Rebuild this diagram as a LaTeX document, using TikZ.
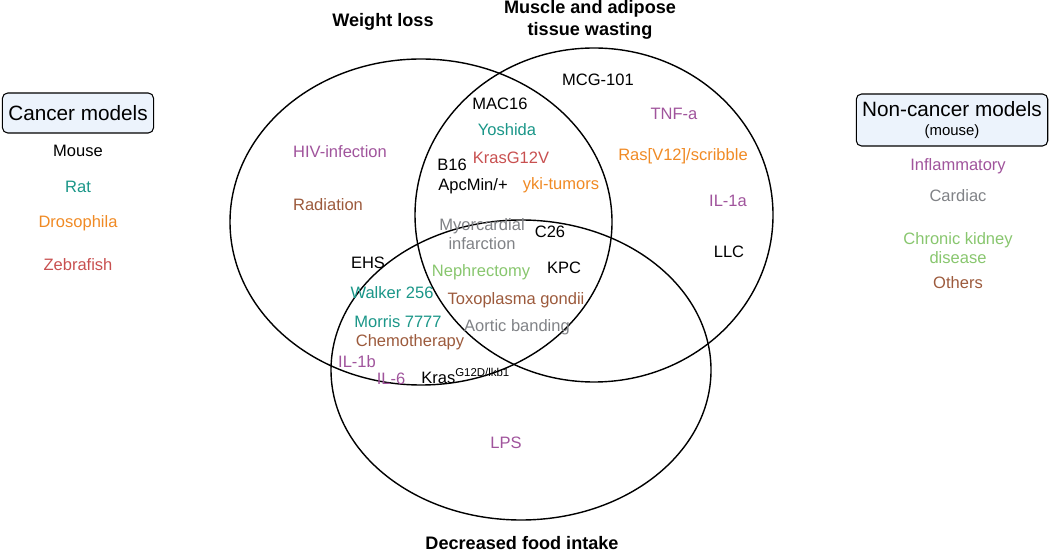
\documentclass[tikz,border=0pt]{standalone}
\usepackage{fontspec}
\setmainfont{Liberation Sans}
\usetikzlibrary{shapes,positioning}
\definecolor{tealcolor}{RGB}{26,150,136}
\definecolor{orangecolor}{RGB}{240,138,36}
\definecolor{redcolor}{RGB}{200,80,80}
\definecolor{purplecolor}{RGB}{160,84,156}
\definecolor{browncolor}{RGB}{156,90,60}
\definecolor{graycolor}{RGB}{128,130,134}
\definecolor{greencolor}{RGB}{136,198,110}
\definecolor{boxcolor}{RGB}{236,243,252}

\begin{document}
\begin{tikzpicture}[x=0.02cm, y=-0.02cm,
    lbl/.style={font=\fontsize{9.4}{10}\selectfont, inner sep=0pt},
    head/.style={font=\fontsize{10.3}{12.4}\selectfont\bfseries, align=center, inner sep=0pt},
    modelbox/.style={draw, rounded corners=3pt, fill=boxcolor, line width=0.6pt, align=center}]
  \useasboundingbox (0,0) rectangle (1050,553);

  % the three sets
  \draw[line width=0.8pt] (421,222) ellipse [x radius=191, y radius=163];
  \draw[line width=0.8pt] (594,215) ellipse [x radius=179, y radius=167];
  \draw[line width=0.8pt] (521,370) ellipse [x radius=190, y radius=150];

  \node[head] (weight) at (383,22) {Weight loss};
  \node[head] (wasting) at (590,20) {Muscle and adipose\\tissue wasting};
  \node[head] (intake) at (522,543) {Decreased food intake};

  % legend, left
  \node[modelbox, font=\fontsize{11.8}{13}\selectfont,
        minimum height=40*0.02cm, minimum width=151*0.02cm] (cancer) at (78,113) {Cancer models};
  \node[lbl] (mouse) at (78,151) {Mouse};
  \node[lbl, text=tealcolor] (rat) at (78,187) {Rat};
  \node[lbl, text=orangecolor] (droso) at (78,223) {Drosophila};
  \node[lbl, text=redcolor] (zebra) at (78,265) {Zebrafish};

  % legend, right
  \node[modelbox, minimum height=52*0.02cm, minimum width=189*0.02cm] (noncancer) at (952,120)
       {\fontsize{11.8}{13}\selectfont Non-cancer models\\[-1pt]\fontsize{8.5}{9}\selectfont (mouse)};
  \node[lbl, text=purplecolor] (inflam) at (958,166) {Inflammatory};
  \node[lbl, text=graycolor] (cardiac) at (958,196) {Cardiac};
  \node[lbl, text=greencolor, align=center] (kidney) at (958,248) {Chronic kidney\\[1pt]disease};
  \node[lbl, text=browncolor] (others) at (958,283) {Others};

  % weight loss only
  \node[lbl, text=purplecolor] (hiv) at (340,152) {HIV-infection};
  \node[lbl, text=browncolor] (radiation) at (328,205) {Radiation};

  % wasting only
  \node[lbl] (mcg) at (598,80) {MCG-101};
  \node[lbl, text=purplecolor] (tnf) at (674,114) {TNF-a};
  \node[lbl, text=orangecolor] (ras) at (683,156) {Ras[V12]/scribble};
  \node[lbl, text=purplecolor] (il1a) at (728,201) {IL-1a};
  \node[lbl] (llc) at (729,252) {LLC};

  % weight loss and wasting
  \node[lbl] (mac) at (500,104) {MAC16};
  \node[lbl, text=tealcolor] (yoshida) at (507,130) {Yoshida};
  \node[lbl] (b16) at (452,165) {B16};
  \node[lbl, text=redcolor] (kras) at (511,158) {KrasG12V};
  \node[lbl] (apc) at (473,186) {ApcMin/+};
  \node[lbl, text=orangecolor] (yki) at (561,185) {yki-tumors};

  % all three
  \node[lbl, text=graycolor, align=center] (myo) at (482,234) {Myorcardial\\[1pt]infarction};
  \node[lbl] (c26) at (550,232) {C26};
  \node[lbl, text=greencolor] (nephr) at (481,272) {Nephrectomy};
  \node[lbl] (kpc) at (564,268) {KPC};
  \node[lbl, text=browncolor] (toxo) at (516,300) {Toxoplasma gondii};
  \node[lbl, text=graycolor] (aortic) at (517,327) {Aortic banding};

  % weight loss and food intake
  \node[lbl] (ehs) at (368,263) {EHS};
  \node[lbl, text=tealcolor] (walker) at (392,293) {Walker 256};
  \node[lbl, text=tealcolor] (morris) at (398,322) {Morris 7777};
  \node[lbl, text=browncolor] (chemo) at (410,342) {Chemotherapy};
  \node[lbl, text=purplecolor] (il1b) at (357,362) {IL-1b};
  \node[lbl, text=purplecolor] (il6) at (391,379) {IL-6};
  \node[lbl, anchor=base west] (krasg) at (421,383) {Kras\textsuperscript{\fontsize{6.5}{7}\selectfont G12D/lkb1}};

  % food intake only
  \node[lbl, text=purplecolor] (lps) at (506,443) {LPS};
\end{tikzpicture}
\end{document}
